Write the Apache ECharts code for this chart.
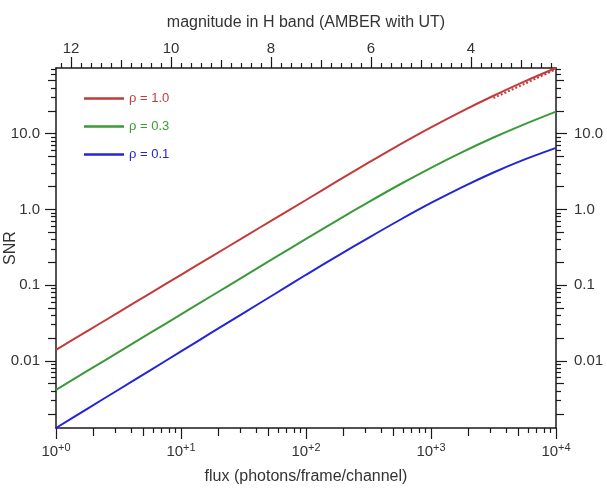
<!DOCTYPE html>
<html><head><meta charset="utf-8">
<script src="https://cdn.jsdelivr.net/npm/echarts@6/dist/echarts.min.js"></script>
<style>html,body{margin:0;padding:0;background:#fff}#c{width:607px;height:488px}</style>
</head><body><div id="c"></div>
<script>
// ---- data ----
const fluxValues = [1, 1.778, 3.162, 5.623, 10, 17.78, 31.62, 56.23, 100, 177.8, 316.2, 562.3, 1000, 1778, 3162, 5623, 10000];
const snrRho10 = [0.0140, 0.0247, 0.0437, 0.0773, 0.137, 0.2415, 0.427, 0.755, 1.33, 2.36, 4.15, 7.16, 12.09, 19.84, 31.6, 49.0, 73.5];
const snrRho03 = [0.00415, 0.00736, 0.01306, 0.0232, 0.0411, 0.0730, 0.1297, 0.230, 0.408, 0.718, 1.247, 2.13, 3.54, 5.70, 8.88, 13.37, 19.54];
const snrRho01 = [0.0013, 0.00233, 0.00416, 0.00745, 0.01334, 0.0239, 0.0428, 0.0764, 0.137, 0.241, 0.421, 0.724, 1.215, 1.97, 3.07, 4.57, 6.49];
const fluxDotted = [3162, 5623, 10000];
const snrDotted = [29.5, 45.5, 71.0];
const seriesNames = ['ρ = 1.0', 'ρ = 0.3', 'ρ = 0.1'];

// ---- axes ranges and ticks ----
const fluxMin = 1, fluxMax = 10000;
const snrMin = 0.0013, snrMax = 73.5;
const magAtFluxMin = 12.3, magAtFluxMax = 2.3;
const xMajorTicks = [1, 10, 100, 1000, 10000];
const xMediumTicks = [2, 5, 20, 50, 200, 500, 2000, 5000];
const xMinorTicks = [3,4,6,7,8,9, 30,40,60,70,80,90, 300,400,600,700,800,900, 3000,4000,6000,7000,8000,9000];
const magMajorTicks = [12, 10, 8, 6, 4];
const magMediumTicks = [11, 9, 7, 5, 3];
const magMinorTicks = [12.2, 11.8, 11.6, 11.4, 11.2, 10.8, 10.6, 10.4, 10.2, 9.8, 9.6, 9.4, 9.2,
  8.8, 8.6, 8.4, 8.2, 7.8, 7.6, 7.4, 7.2, 6.8, 6.6, 6.4, 6.2, 5.8, 5.6, 5.4, 5.2,
  4.8, 4.6, 4.4, 4.2, 3.8, 3.6, 3.4, 3.2, 2.8, 2.6, 2.4];
const yMajorTicks = [0.01, 0.1, 1, 10];
const yMediumTicks = [0.002, 0.005, 0.02, 0.05, 0.2, 0.5, 2, 5, 20, 50];
const yMinorTicks = [0.003,0.004,0.006,0.007,0.008,0.009, 0.03,0.04,0.06,0.07,0.08,0.09,
  0.3,0.4,0.6,0.7,0.8,0.9, 3,4,6,7,8,9, 30,40,60,70];

const RED = '#c23b3b', GREEN = '#3a9a3a', BLUE = '#2424d8';
const AX = '#1a1a1a', TXT = '#333';
const FONT = '"Liberation Sans", Arial, Helvetica, sans-serif';

function axisBase(extra, ticks, len, showLine) {
  return Object.assign({
    splitLine: {show: false},
    axisLine: {show: showLine, onZero: false, lineStyle: {color: AX, width: 1.5}},
    axisTick: {show: true, inside: false, customValues: ticks, length: len, lineStyle: {color: AX, width: 1.2}},
    axisLabel: {show: false},
    nameMoveOverlap: false,
    silent: true
  }, extra);
}
function logX(ticks, len, showLine) {
  return axisBase({type: 'log', logBase: 10, min: fluxMin, max: fluxMax, position: 'bottom'}, ticks, len, showLine);
}
function magX(ticks, len, showLine) {
  return axisBase({type: 'value', min: magAtFluxMax, max: magAtFluxMin, inverse: true, position: 'top'}, ticks, len, showLine);
}
function logY(pos, ticks, len, showLine) {
  return axisBase({type: 'log', logBase: 10, min: snrMin, max: snrMax, position: pos}, ticks, len, showLine);
}
const fmtY = v => { const e = Math.round(Math.log10(v)); return e >= 0 ? v.toFixed(1) : v.toFixed(-e); };
const labelBase = {show: true, color: TXT, fontSize: 15, fontFamily: FONT};
const nameStyle = {color: TXT, fontSize: 16, fontFamily: FONT};

const xAxes = [
  Object.assign(logX(xMajorTicks, 11, true), {
    axisLabel: Object.assign({}, labelBase, {customValues: xMajorTicks, margin: 14,
      formatter: v => '10{s|+' + Math.round(Math.log10(v)) + '}',
      rich: {s: {fontSize: 11, color: TXT, fontFamily: FONT, padding: [0, 0, 8, 0]}}}),
    name: 'flux (photons/frame/channel)', nameLocation: 'middle', nameGap: 41, nameTextStyle: nameStyle
  }),
  logX(xMediumTicks, 8, false),
  logX(xMinorTicks, 5, false),
  Object.assign(magX(magMajorTicks, 11, true), {
    axisLabel: Object.assign({}, labelBase, {customValues: magMajorTicks, margin: 12, formatter: v => String(v)}),
    name: 'magnitude in H band (AMBER with UT)', nameLocation: 'middle', nameGap: 37, nameTextStyle: nameStyle
  }),
  magX(magMediumTicks, 8, false),
  magX(magMinorTicks, 5, false)
];
const yAxes = [
  Object.assign(logY('left', yMajorTicks, 11, true), {
    axisLabel: Object.assign({}, labelBase, {customValues: yMajorTicks, margin: 16, formatter: fmtY}),
    name: 'SNR', nameLocation: 'middle', nameRotate: 90, nameGap: 37, nameTextStyle: nameStyle
  }),
  logY('left', yMediumTicks, 8, false),
  logY('left', yMinorTicks, 5, false),
  Object.assign(logY('right', yMajorTicks, 11, true), {
    axisLabel: Object.assign({}, labelBase, {customValues: yMajorTicks, margin: 18, formatter: fmtY})
  }),
  logY('right', yMediumTicks, 8, false),
  logY('right', yMinorTicks, 5, false)
];

function pairs(xs, ys) { return xs.map((x, i) => [x, ys[i]]); }
function lineSeries(name, xs, ys, color, type) {
  return {
    name: name, type: 'line', xAxisIndex: 0, yAxisIndex: 0,
    data: pairs(xs, ys), symbol: 'none', showSymbol: false, smooth: 0.3,
    lineStyle: {color: color, width: 2, type: type || 'solid'}, itemStyle: {color: color},
    emphasis: {disabled: true}
  };
}

const chart = echarts.init(document.getElementById('c'), null, {renderer: 'canvas'});
chart.setOption({
  animation: false,
  backgroundColor: '#fff',
  grid: {left: 56, right: 51, top: 68, bottom: 60, containLabel: false, outerBoundsMode: 'none'},
  xAxis: xAxes,
  yAxis: yAxes,
  legend: {
    orient: 'vertical', left: 79, top: 87, itemWidth: 40, itemHeight: 2.5, itemGap: 15,
    icon: 'rect', selectedMode: false,
    textStyle: {fontSize: 13, fontFamily: FONT},
    data: [
      {name: seriesNames[0], textStyle: {color: RED}},
      {name: seriesNames[1], textStyle: {color: GREEN}},
      {name: seriesNames[2], textStyle: {color: BLUE}}
    ]
  },
  series: [
    lineSeries(seriesNames[0], fluxValues, snrRho10, RED),
    lineSeries(seriesNames[1], fluxValues, snrRho03, GREEN),
    lineSeries(seriesNames[2], fluxValues, snrRho01, BLUE),
    lineSeries('ρ = 1.0 (approx.)', fluxDotted, snrDotted, RED, 'dotted')
  ]
});
</script></body></html>
